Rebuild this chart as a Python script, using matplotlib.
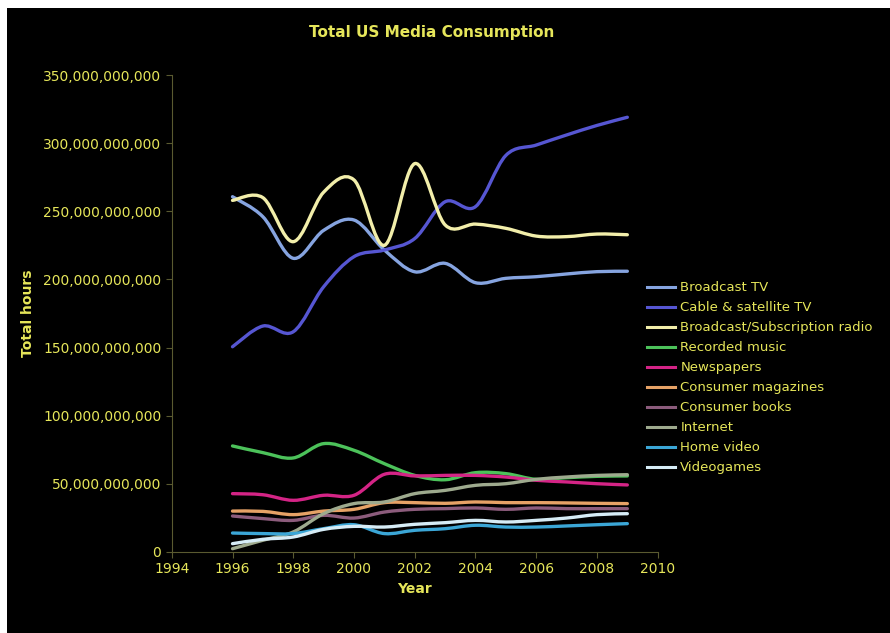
import numpy as np
import matplotlib
matplotlib.use("Agg")
import matplotlib.pyplot as plt
from matplotlib.path import Path
from matplotlib.patches import PathPatch, Rectangle
from matplotlib.lines import Line2D
from matplotlib.ticker import FuncFormatter

years = [1996, 1997, 1998, 1999, 2000, 2001, 2002, 2003, 2004, 2005, 2006, 2007, 2008, 2009]

# billions of hours
broadcast_tv = [260.7, 246, 215.5, 236, 243.6, 221.6, 205.6, 211.8, 197.6, 200.8, 202, 204, 205.7, 206]
cable_tv = [150.6, 165.8, 161.6, 194.6, 216.7, 221.6, 230, 257, 253.4, 291, 298.6, 306, 313, 319]
radio = [258, 260, 227.7, 264, 273, 225, 285, 240, 240.6, 237.5, 231.8, 231.4, 233.3, 232.8]
recorded_music = [77.8, 72.9, 69, 79.5, 74.6, 64.8, 56.2, 53, 58.2, 57.5, 53.3, 54.5, 55.5, 55.8]
newspapers = [42.8, 42, 37.9, 41.6, 41.6, 57, 55.8, 56.2, 56.2, 55, 52.6, 51.4, 50.1, 49.2]
magazines = [30, 29.8, 27.4, 30, 31.3, 36.2, 36.2, 35.7, 36.7, 36.2, 36.2, 36, 35.7, 35.5]
books = [26.4, 24.5, 23.2, 26.9, 24.9, 29.3, 31.3, 31.8, 32.3, 31.3, 32.3, 31.8, 31.8, 31.8]
internet = [2.4, 8.6, 14.7, 28.1, 35.5, 36.7, 42.8, 45.2, 48.9, 50.1, 53.3, 55, 56.2, 56.7]
home_video = [13.9, 13.5, 13.5, 17.1, 20, 13.5, 15.9, 17.1, 19.6, 18.3, 18.3, 19.1, 20, 20.8]
videogames = [6.1, 9.3, 11, 16.6, 18.8, 18.3, 20.3, 21.5, 23.2, 22, 23.2, 24.9, 27.4, 28.1]

labels = ["Broadcast TV", "Cable & satellite TV", "Broadcast/Subscription radio",
          "Recorded music", "Newspapers", "Consumer magazines", "Consumer books",
          "Internet", "Home video", "Videogames"]
series = [broadcast_tv, cable_tv, radio, recorded_music, newspapers, magazines,
          books, internet, home_video, videogames]
colors = ["#86a4e0", "#5656d2", "#f2eeaa", "#4cc25a", "#d42486", "#e6a266",
          "#8c5c7c", "#9eaa8e", "#3ba6d6", "#d6ecf6"]

txt = "#e6e65a"


def smooth_path(x, y):
    # bezier path through the points (like excel smoothed lines)
    p = np.column_stack([x, y]).astype(float)
    n = len(p)
    verts = [p[0]]
    codes = [Path.MOVETO]
    for i in range(n - 1):
        p0 = p[i - 1] if i > 0 else p[i]
        p3 = p[i + 2] if i + 2 < n else p[i + 1]
        c1 = p[i] + (p[i + 1] - p0) / 6.0
        c2 = p[i + 1] - (p3 - p[i]) / 6.0
        verts += [c1, c2, p[i + 1]]
        codes += [Path.CURVE4] * 3
    return Path(verts, codes)


fig = plt.figure(figsize=(8.9, 6.33), dpi=100, facecolor="white")
fig.patches.append(Rectangle((7 / 890, 0), 1, 625 / 633, transform=fig.transFigure,
                             facecolor="black", edgecolor="none", zorder=-10))

ax = fig.add_axes([0.193, 0.128, 0.546, 0.7535])
ax.set_facecolor("black")

handles = []
for vals, c, lab in zip(series, colors, labels):
    yv = np.array(vals) * 1e9
    ax.add_patch(PathPatch(smooth_path(years, yv), facecolor="none", edgecolor=c,
                           lw=2.4, capstyle="round", joinstyle="round"))
    handles.append(Line2D([], [], color=c, lw=2.2, label=lab))

ax.set_xlim(1994, 2010)
ax.set_ylim(0, 350e9)
ax.set_xticks(range(1994, 2011, 2))
ax.set_yticks(np.arange(0, 351e9, 50e9))
ax.yaxis.set_major_formatter(FuncFormatter(lambda v, p: f"{int(round(v)):,}"))

for s in ["top", "right"]:
    ax.spines[s].set_visible(False)
for s in ["left", "bottom"]:
    ax.spines[s].set_color("#5a5a30")
    ax.spines[s].set_linewidth(0.8)
ax.tick_params(colors="#5a5a30", labelcolor=txt, labelsize=10, length=4, width=0.8)

ax.set_xlabel("Year", color=txt, fontsize=10, fontweight="bold", labelpad=4)
ax.set_ylabel("Total hours", color=txt, fontsize=10, fontweight="bold", labelpad=6)

fig.text(432 / 890, 1 - 32 / 633, "Total US Media Consumption", color=txt,
         fontsize=11, fontweight="bold", ha="center", va="center")

leg = fig.legend(handles=handles, loc="upper left", bbox_to_anchor=(642 / 890, 1 - 276 / 633),
                 frameon=False, fontsize=9.5, labelspacing=0.53, handlelength=2.1,
                 handletextpad=0.4, borderaxespad=0)
for t in leg.get_texts():
    t.set_color(txt)

fig.savefig("out.png", dpi=100, facecolor=fig.get_facecolor())
